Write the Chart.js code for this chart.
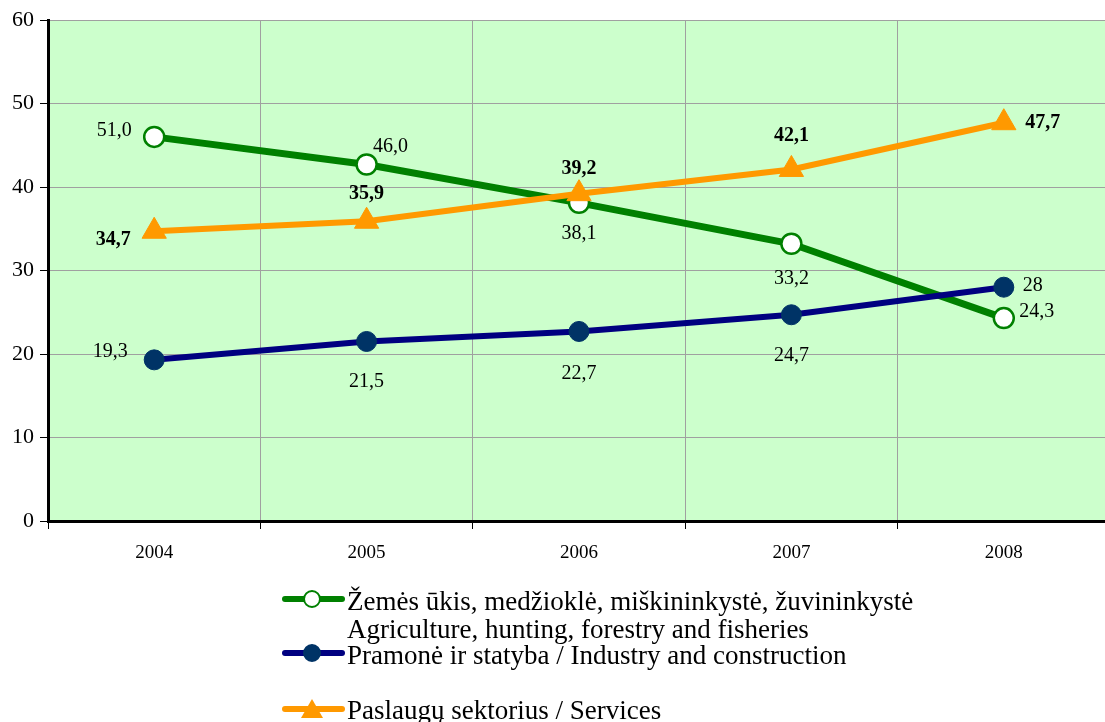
<!DOCTYPE html>
<html>
<head>
<meta charset="utf-8">
<script src="https://cdn.jsdelivr.net/npm/chart.js@4"></script>
<style>
html,body{margin:0;padding:0;background:#fff;overflow:hidden;}
canvas{display:block;}
</style>
</head>
<body>
<canvas id="c" width="1125" height="722"></canvas>
<script>
const years = ['2004','2005','2006','2007','2008'];
const agriValues = [46.0, 42.7, 38.1, 33.2, 24.3];
const industryValues = [19.3, 21.5, 22.7, 24.7, 28.0];
const servicesValues = [34.7, 35.9, 39.2, 42.1, 47.7];
const agriLabels = ['51,0','46,0','38,1','33,2','24,3'];
const industryLabels = ['19,3','21,5','22,7','24,7','28'];
const servicesLabels = ['34,7','35,9','39,2','42,1','47,7'];
const yTicks = [0,10,20,30,40,50,60];
const legendTexts = [
  ['Žemės ūkis, medžioklė, miškininkystė, žuvininkystė','Agriculture, hunting, forestry and fisheries'],
  ['Pramonė ir statyba / Industry and construction'],
  ['Paslaugų sektorius / Services']
];

const SERIF = '"Liberation Serif", "Times New Roman", serif';

const labelOffsets = [
  [[-40,-6],[24,-18],[0,31],[0,35],[33,-6]],
  [[-44,-8],[0,40],[0,42],[0,41],[29,-1]],
  [[-41,9],[0,-27],[0,-25],[0,-34],[39,0]]
];
const labelBold = [false,false,true];
const labelTexts = [agriLabels, industryLabels, servicesLabels];

const bgPlugin = {
  id:'bg',
  beforeDraw(chart){
    const {ctx, chartArea:a} = chart;
    ctx.save();
    ctx.fillStyle = '#CCFFCC';
    ctx.fillRect(a.left, a.top, a.right-a.left, a.bottom-a.top);
    ctx.restore();
  }
};

const labelPlugin = {
  id:'dlabels',
  afterDatasetsDraw(chart){
    const ctx = chart.ctx;
    ctx.save();
    ctx.fillStyle = '#000';
    ctx.textAlign = 'center';
    ctx.textBaseline = 'middle';
    chart.data.datasets.forEach((ds, i) => {
      const meta = chart.getDatasetMeta(i);
      ctx.font = (labelBold[i] ? 'bold ' : '') + '20px ' + SERIF;
      meta.data.forEach((pt, j) => {
        const o = labelOffsets[i][j];
        ctx.fillText(labelTexts[i][j], pt.x + o[0], pt.y + o[1]);
      });
    });
    ctx.restore();
  }
};

const legendPlugin = {
  id:'customLegend',
  afterDraw(chart){
    const ctx = chart.ctx;
    const rows = [599, 653, 709];
    const textRows = [[603, 631],[657],[712]];
    ctx.save();
    chart.data.datasets.forEach((ds, i) => {
      const y = rows[i];
      ctx.strokeStyle = ds.borderColor;
      ctx.lineWidth = 6;
      ctx.lineCap = 'round';
      ctx.beginPath();
      ctx.moveTo(285, y);
      ctx.lineTo(342, y);
      ctx.stroke();
      ctx.fillStyle = ds.pointBackgroundColor;
      ctx.strokeStyle = ds.pointBorderColor;
      ctx.lineWidth = 2;
      if (ds.pointStyle === 'triangle') {
        ctx.beginPath();
        ctx.moveTo(312, y-10);
        ctx.lineTo(323, y+9);
        ctx.lineTo(301, y+9);
        ctx.closePath();
        ctx.fill();
      } else {
        ctx.beginPath();
        ctx.arc(312, y, 8, 0, Math.PI*2);
        ctx.fill();
        ctx.stroke();
      }
      ctx.fillStyle = '#000';
      ctx.font = '27px ' + SERIF;
      ctx.textAlign = 'left';
      ctx.textBaseline = 'middle';
      legendTexts[i].forEach((t, k) => {
        ctx.fillText(t, 347, textRows[i][k]);
      });
    });
    ctx.restore();
  }
};

new Chart(document.getElementById('c'), {
  type:'line',
  data:{
    labels: years,
    datasets:[
      {
        label: legendTexts[0].join(' '),
        data: agriValues,
        borderColor:'#008000',
        borderWidth:7,
        pointStyle:'circle',
        pointRadius:10,
        pointBackgroundColor:'#FFFFFF',
        pointBorderColor:'#008000',
        pointBorderWidth:2.5,
        order:2
      },
      {
        label: legendTexts[1][0],
        data: industryValues,
        borderColor:'#000080',
        borderWidth:6,
        pointStyle:'circle',
        pointRadius:10,
        pointBackgroundColor:'#003366',
        pointBorderColor:'#003366',
        pointBorderWidth:1,
        order:1
      },
      {
        label: legendTexts[2][0],
        data: servicesValues,
        borderColor:'#FF9900',
        borderWidth:6,
        pointStyle:'triangle',
        pointRadius:14,
        pointBackgroundColor:'#FF9900',
        pointBorderColor:'#FF9900',
        pointBorderWidth:1,
        order:0
      }
    ]
  },
  options:{
    responsive:false,
    animation:false,
    events:[],
    layout:{padding:{top:20,right:0,left:0,bottom:0}},
    plugins:{legend:{display:false}, tooltip:{enabled:false}},
    scales:{
      x:{
        offset:true,
        grid:{offset:true, color:'#A0A0A0', lineWidth:1, tickLength:8, tickColor:'#000', drawTicks:true},
        border:{display:true, color:'#000', width:3},
        ticks:{font:{family:SERIF, size:19}, color:'#000', padding:13, maxRotation:0},
        afterFit(s){ s.height = 201; }
      },
      y:{
        min:0, max:60,
        afterBuildTicks(s){ s.ticks = yTicks.map(v => ({value:v})); },
        grid:{color:'#A0A0A0', lineWidth:1, tickLength:8, tickColor:'#000'},
        border:{display:true, color:'#000', width:3},
        ticks:{font:{family:SERIF, size:22}, color:'#000', padding:6},
        afterFit(s){ s.width = 48; }
      }
    }
  },
  plugins:[bgPlugin, labelPlugin, legendPlugin]
});
</script>
</body>
</html>
